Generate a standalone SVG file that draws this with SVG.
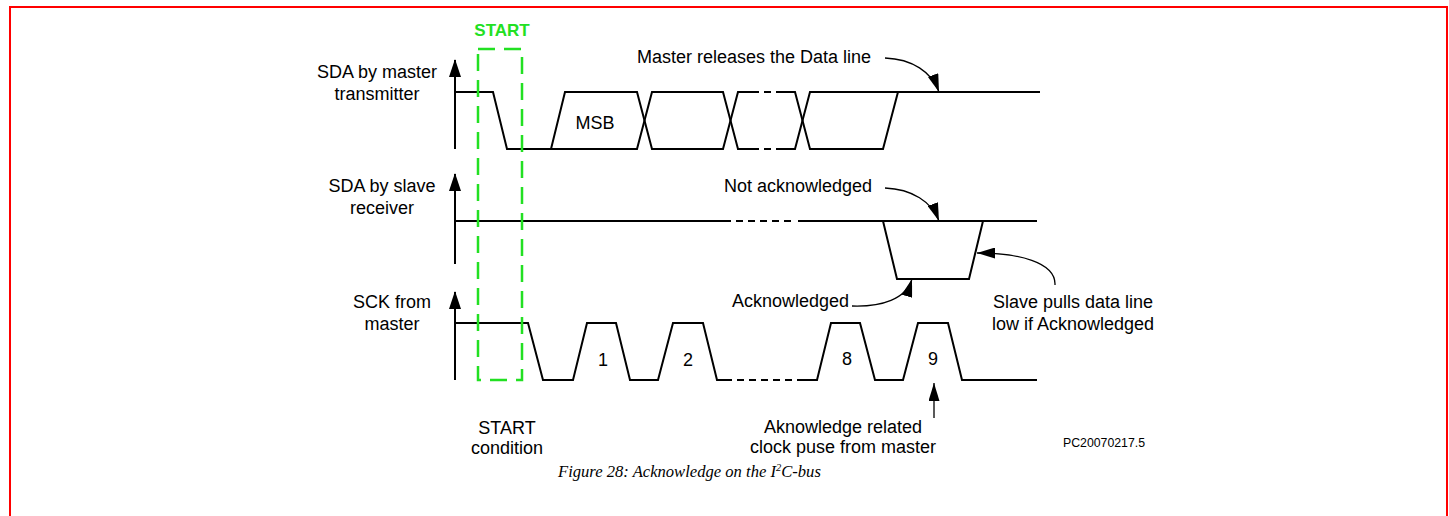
<svg xmlns="http://www.w3.org/2000/svg" width="1449" height="516" viewBox="0 0 1449 516">
<defs>
<style>
.t{font-family:"Liberation Sans",Arial,sans-serif;font-size:18px;fill:#000}
.c{text-anchor:middle}
.w{fill:none;stroke:#000;stroke-width:2;stroke-linejoin:miter}
.d{fill:none;stroke:#000;stroke-width:2;stroke-dasharray:7 5}
.ax{fill:none;stroke:#000;stroke-width:2}
.ann{fill:none;stroke:#000;stroke-width:1.3;marker-end:url(#ah)}
.g{fill:none;stroke:#22e022;stroke-width:2.5;stroke-dasharray:17 9}
</style>
<marker id="ah" markerUnits="userSpaceOnUse" markerWidth="19" markerHeight="11" refX="18" refY="5.5" orient="auto">
<path d="M0,0 L18,5.5 L0,11 z" fill="#000"/>
</marker>
</defs>
<rect width="1449" height="516" fill="#fff"/>
<path d="M10,516 L10,7 L1447,7 L1447,516" fill="none" stroke="#ff0000" stroke-width="2"/>

<g id="label-sda-master">
<text class="t c" x="377" y="78">SDA by master</text>
<text class="t c" x="377" y="100">transmitter</text>
</g>
<g id="label-sda-slave">
<text class="t c" x="382" y="192">SDA by slave</text>
<text class="t c" x="382" y="214">receiver</text>
</g>
<g id="label-sck">
<text class="t c" x="392" y="308">SCK from</text>
<text class="t c" x="392" y="330">master</text>
</g>

<g id="axes">
<line class="ax" x1="455" y1="149" x2="455" y2="60"/>
<path d="M449,77 L455,59 L461,77 z"/>
<line class="ax" x1="455" y1="264" x2="455" y2="174"/>
<path d="M449,191 L455,173 L461,191 z"/>
<line class="ax" x1="455" y1="380" x2="455" y2="292"/>
<path d="M449,309 L455,291 L461,309 z"/>
</g>

<g id="trace-sda-master">
<path class="w" d="M455,92 L493,92 L507,149 L551,149 L565,92 L637,92 L652,149 L723,149 L738,92 L752,92"/>
<path class="w" d="M551,149 L637,149 L652,92 L723,92 L738,149 L752,149"/>
<path class="d" d="M752,92 L783,92 M752,149 L783,149"/>
<path class="w" d="M783,92 L795,92 L810,149 L883,149 L898,92 L1040,92"/>
<path class="w" d="M783,149 L795,149 L810,92 L898,92"/>
<text class="t c" x="595" y="129">MSB</text>
</g>

<g id="trace-sda-slave">
<path class="w" d="M455,221 L731,221"/>
<path class="d" d="M736,221 L792,221"/>
<path class="w" d="M798,221 L1037,221"/>
<path class="w" d="M883,221 L897,279 L969,279 L983,221"/>
</g>

<g id="trace-sck">
<path class="w" d="M455,323 L528,323 L543,380 L573,380 L587,323 L616,323 L630,380 L658,380 L673,323 L703,323 L717,380 L732,380"/>
<path class="d" d="M737,380 L800,380"/>
<path class="w" d="M800,380 L817,380 L831,323 L860,323 L875,380 L903,380 L918,323 L948,323 L962,380 L1037,380"/>
<text class="t c" x="603" y="366">1</text>
<text class="t c" x="688" y="366">2</text>
<text class="t c" x="847" y="365">8</text>
<text class="t c" x="933" y="365">9</text>
</g>

<g id="start-box">
<rect class="g" x="478" y="49" width="44" height="331"/>
<text x="502" y="36" text-anchor="middle" font-family="Liberation Sans,Arial,sans-serif" font-size="17" font-weight="bold" fill="#22e022">START</text>
</g>

<g id="label-master-releases">
<text class="t" x="637" y="63">Master releases the Data line</text>
</g>
<g id="label-not-ack">
<text class="t" x="724" y="192">Not acknowledged</text>
</g>
<g id="label-ack">
<text class="t" x="732" y="307">Acknowledged</text>
</g>
<g id="label-slave-pulls">
<text class="t c" x="1073" y="308">Slave pulls data line</text>
<text class="t c" x="1073" y="330">low if Acknowledged</text>
</g>
<g id="label-ack-clock">
<text class="t c" x="843" y="433">Aknowledge related</text>
<text class="t c" x="843" y="453">clock puse from master</text>
</g>
<g id="label-start-cond">
<text class="t c" x="507" y="434">START</text>
<text class="t c" x="507" y="454">condition</text>
</g>
<g id="label-code">
<text x="1063" y="447" font-family="Liberation Sans,Arial,sans-serif" font-size="12.3">PC20070217.5</text>
</g>

<g id="connectors">
<path class="ann" d="M885,58 C912,59 932,72 939,92"/>
<path class="ann" d="M885,188 C912,189 932,202 939,221"/>
<path class="ann" d="M852,306 C882,307 906,299 912,279"/>
<path class="ann" d="M1055,285 C1056,262 1018,253 977,253"/>
<path class="ann" d="M934,418 L934,383"/>
</g>

<g id="caption">
<text x="558" y="477" font-family="Liberation Serif,Times New Roman,serif" font-size="16.6" font-style="italic">Figure 28: Acknowledge on the I<tspan font-size="10.5" dy="-6">2</tspan><tspan dy="6">C-bus</tspan></text>
</g>
</svg>
